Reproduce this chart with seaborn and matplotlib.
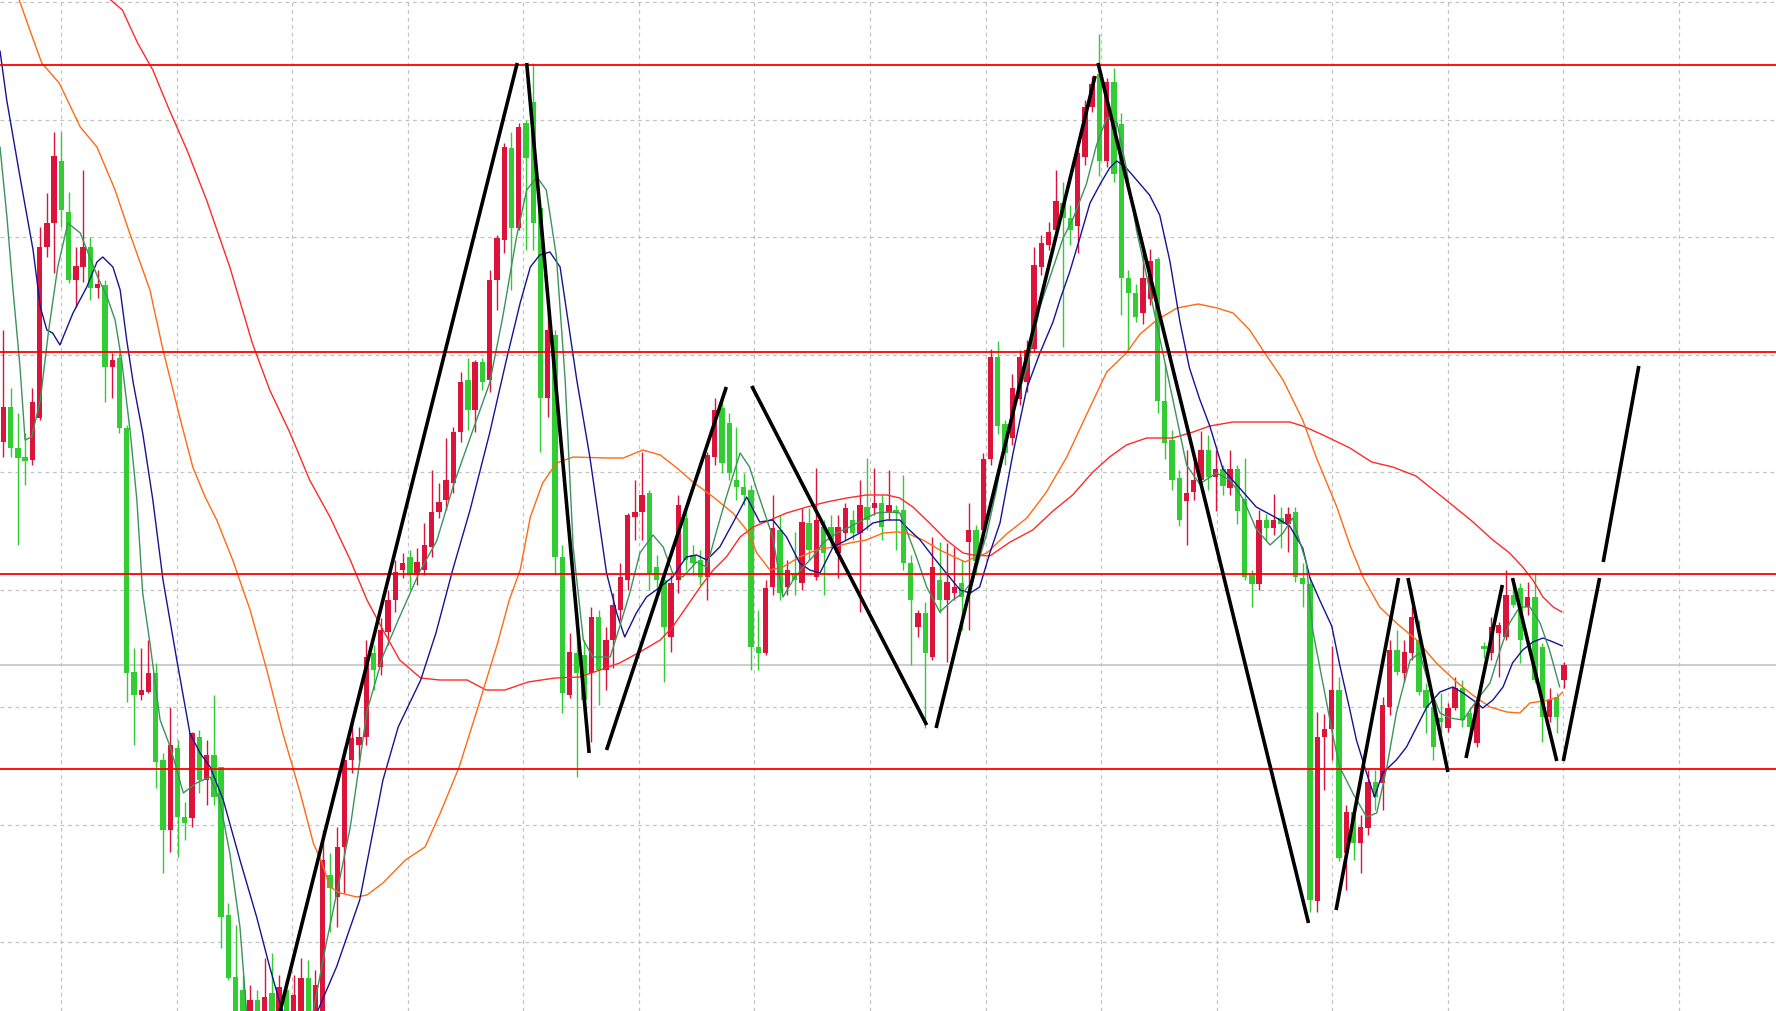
import numpy as np
import pandas as pd
import seaborn as sns
import matplotlib
matplotlib.use("Agg")
import matplotlib.pyplot as plt

# OHLC per bar (price in chart points)
opens = [569, 604, 563, 554, 551, 593, 764, 788, 850, 799,
         731, 744, 764, 723, 726, 644, 653, 583, 339, 316,
         319, 338, 251, 181, 263, 194, 193, 274, 231, 256,
         244, 96, 34, 21, -24, 11, -19, 18, -14, 21,
         -4, -9, 33, -4, -9, 136, 114, 164, 251, 266,
         274, 358, 344, 379, 411, 441, 454, 436, 441, 464,
         499, 511, 528, 579, 631, 601, 649, 631, 731, 771,
         863, 783, 888, 909, 803, 613, 676, 454, 316, 358,
         356, 338, 394, 341, 371, 401, 431, 494, 499, 518,
         444, 431, 374, 431, 493, 456, 451, 434, 554, 603,
         588, 531, 524, 521, 364, 358, 424, 481, 424, 438,
         428, 488, 434, 484, 484, 458, 478, 491, 478, 504,
         503, 508, 498, 501, 501, 448, 384, 398, 354, 431,
         411, 418, 428, 469, 481, 481, 552, 654, 587, 573,
         612, 629, 662, 744, 766, 781, 808, 793, 785, 854,
         904, 937, 850, 929, 887, 733, 718, 698, 712, 752,
         610, 571, 533, 510, 519, 531, 561, 534, 542, 523,
         542, 512, 436, 427, 491, 483, 493, 487, 499, 433,
         427, 110, 274, 282, 321, 158, 199, 168, 183, 229,
         228, 304, 361, 338, 358, 371, 321, 304, 293, 283,
         303, 323, 298, 268, 365, 358, 378, 374, 416, 423,
         404, 414, 364, 294, 314, 331]
closes = [604, 563, 553, 550, 609, 764, 788, 855, 801, 731,
          745, 764, 723, 727, 644, 651, 583, 338, 316, 321,
          338, 249, 181, 266, 194, 188, 278, 231, 256, 214,
          94, 33, -9, -19, 11, -14, 14, -9, 24, -4,
          16, 33, -4, 26, 151, 123, 164, 251, 273, 274,
          354, 341, 381, 411, 439, 448, 436, 449, 466, 499,
          509, 531, 579, 629, 601, 649, 629, 731, 773, 864,
          783, 884, 853, 788, 613, 681, 454, 318, 359, 338,
          311, 394, 341, 371, 406, 434, 496, 499, 516, 438,
          431, 384, 428, 506, 451, 448, 434, 556, 601, 548,
          538, 524, 516, 364, 358, 423, 483, 418, 441, 431,
          489, 461, 491, 458, 471, 484, 503, 478, 506, 491,
          508, 484, 506, 498, 448, 411, 398, 358, 444, 411,
          429, 424, 414, 481, 450, 552, 654, 585, 558, 623,
          654, 661, 746, 768, 779, 810, 793, 781, 858, 904,
          927, 850, 929, 837, 733, 718, 694, 733, 750, 610,
          568, 531, 491, 518, 531, 561, 534, 542, 525, 542,
          500, 434, 427, 491, 483, 491, 487, 497, 434, 427,
          111, 274, 282, 321, 153, 199, 168, 184, 229, 214,
          306, 361, 339, 359, 394, 319, 303, 264, 289, 303,
          323, 291, 284, 308, 362, 384, 386, 416, 406, 371,
          414, 331, 294, 311, 294, 346]
highs = [681, 623, 598, 578, 623, 784, 818, 879, 879, 819,
         764, 841, 774, 741, 731, 658, 658, 586, 363, 363,
         371, 348, 258, 304, 271, 209, 279, 281, 271, 316,
         244, 108, 86, 36, 26, 21, 53, 58, 36, 31,
         36, 53, 51, 41, 181, 158, 184, 263, 293, 284,
         371, 366, 393, 421, 451, 458, 461, 463, 488, 541,
         528, 573, 584, 639, 653, 651, 653, 741, 776, 868,
         879, 888, 891, 948, 811, 701, 681, 466, 378, 398,
         371, 404, 401, 384, 418, 448, 498, 531, 559, 521,
         456, 441, 436, 516, 506, 466, 461, 559, 613, 611,
         598, 584, 538, 526, 401, 431, 516, 496, 451, 479,
         503, 503, 543, 491, 496, 496, 508, 501, 531, 553,
         543, 516, 541, 506, 536, 456, 401, 409, 474, 469,
         468, 464, 451, 508, 486, 558, 662, 670, 591, 637,
         661, 671, 764, 776, 789, 841, 829, 806, 863, 911,
         935, 977, 933, 943, 898, 741, 727, 762, 762, 754,
         648, 581, 541, 561, 553, 580, 576, 561, 546, 561,
         546, 553, 441, 501, 497, 517, 504, 504, 504, 448,
         434, 299, 297, 365, 334, 206, 206, 196, 241, 241,
         314, 371, 381, 371, 404, 391, 328, 311, 318, 308,
         334, 331, 304, 311, 369, 394, 389, 441, 431, 428,
         429, 438, 368, 323, 318, 349]
lows = [554, 554, 466, 526, 546, 591, 754, 738, 784, 728,
        704, 729, 711, 713, 609, 613, 578, 309, 266, 311,
        318, 223, 138, 159, 154, 171, 184, 218, 206, 206,
        63, 31, -19, -34, -34, -29, -29, -24, -24, -19,
        -14, -19, -14, -14, -14, 79, 84, 118, 238, 251,
        266, 321, 336, 366, 399, 433, 421, 426, 436, 454,
        493, 501, 518, 569, 581, 579, 621, 619, 701, 758,
        721, 781, 761, 761, 559, 594, 436, 298, 313, 234,
        299, 269, 306, 321, 343, 391, 421, 471, 471, 421,
        416, 329, 359, 418, 441, 436, 426, 411, 546, 538,
        531, 511, 506, 341, 341, 356, 416, 411, 416, 416,
        421, 451, 431, 416, 463, 433, 471, 471, 399, 481,
        496, 471, 491, 461, 441, 346, 374, 283, 351, 398,
        349, 411, 381, 381, 436, 466, 546, 577, 546, 566,
        606, 619, 659, 736, 761, 776, 664, 766, 758, 846,
        899, 835, 844, 829, 696, 662, 689, 687, 706, 598,
        552, 521, 485, 466, 511, 526, 521, 500, 516, 516,
        487, 431, 404, 421, 471, 476, 463, 459, 429, 404,
        99, 99, 221, 251, 150, 121, 151, 138, 176, 201,
        201, 296, 336, 329, 351, 316, 278, 251, 278, 279,
        301, 284, 274, 264, 353, 351, 334, 371, 404, 348,
        396, 328, 269, 289, 278, 323]

# moving averages (bar, price)
fast_ma = [(-0.45, 864), (0.5, 794), (1.3, 724), (2.3, 644), (3.0, 571), (3.9, 574), (5.1, 611),
           (6.2, 678), (7.5, 744), (8.9, 788), (10.6, 778), (11.9, 754), (13.0, 734), (14.3, 714),
           (15.4, 691), (16.3, 651), (17.5, 578), (18.4, 511), (19.2, 418), (20.2, 368), (21.6, 291),
           (23.0, 264), (24.8, 218), (26.6, 228), (28.5, 234), (29.8, 211), (31.2, 158), (32.6, 84),
           (33.5, 0), (34.7, -34), (40.9, -34), (42.7, 0), (44.5, 68), (46.4, 134), (47.8, 184),
           (49.1, 250), (50.1, 300), (52.3, 355), (54.4, 391), (57.4, 440), (59.7, 470), (62.2, 530),
           (64.7, 581), (67.0, 628), (68.8, 694), (70.7, 774), (72.1, 821), (73.5, 834), (74.8, 821),
           (76.2, 754), (77.4, 631), (78.5, 464), (79.9, 371), (81.2, 354), (83.6, 354), (84.9, 384),
           (86.3, 418), (87.7, 458), (89.5, 476), (90.9, 464), (92.2, 438), (93.6, 434), (95.5, 449),
           (96.9, 444), (98.3, 481), (99.6, 514), (101.5, 558), (102.8, 544), (103.8, 521),
           (105.2, 491), (106.0, 474), (107.4, 414), (108.8, 431), (110.2, 444), (111.5, 454),
           (112.9, 468), (114.8, 478), (116.6, 484), (118.4, 491), (120.3, 498), (122.1, 499),
           (123.5, 498), (124.4, 481), (125.8, 454), (127.2, 424), (129.0, 399), (130.8, 411),
           (132.2, 418), (133.6, 431), (135.5, 478), (136.8, 521), (138.2, 577), (139.6, 612),
           (141.0, 643), (142.8, 704), (144.6, 743), (146.0, 773), (147.4, 793), (149.2, 827),
           (150.6, 866), (152.0, 893), (153.4, 889), (154.7, 843), (156.1, 781), (157.5, 735),
           (159.3, 673), (161.1, 612), (163.0, 546), (164.8, 527), (167.1, 538), (169.0, 531),
           (170.8, 512), (172.6, 482), (174.5, 466), (176.3, 478), (177.6, 493), (179.5, 448),
           (180.4, 380), (181.8, 327), (183.2, 274), (184.1, 244), (185.9, 218), (187.8, 194),
           (189.2, 198), (190.6, 244), (191.9, 298), (193.8, 351), (195.1, 358), (196.5, 324),
           (197.9, 298), (199.3, 293), (201.1, 291), (203.0, 311), (204.8, 328), (206.2, 361),
           (207.5, 388), (208.9, 404), (210.3, 404), (211.7, 388), (213.0, 361), (214.4, 324)]
blue_ma = [(-0.45, 960), (0.47, 911), (2.3, 834), (4.1, 761), (5.1, 704), (6.0, 681), (6.8, 678),
           (7.8, 666), (9.6, 698), (11.5, 724), (12.9, 749), (13.7, 754), (15.1, 744), (16.1, 721),
           (17.0, 671), (17.9, 628), (19.2, 578), (20.6, 511), (22.0, 431), (23.9, 351), (25.7, 278),
           (27.1, 258), (28.5, 244), (30.3, 211), (32.6, 151), (34.9, 94), (36.7, 44), (38.1, 8),
           (39.5, -19), (41.5, -19), (43.3, 0), (45.9, 44), (49.1, 111), (52.3, 231), (54.4, 284),
           (57.5, 331), (59.6, 378), (61.9, 441), (64.3, 501), (67.0, 578), (69.3, 651), (71.2, 708),
           (72.6, 744), (73.9, 756), (75.3, 759), (76.7, 744), (79.0, 631), (80.8, 554), (83.1, 438),
           (84.5, 398), (85.6, 374), (87.2, 398), (88.6, 414), (90.5, 424), (92.2, 434), (94.1, 454),
           (95.5, 456), (96.9, 451), (98.7, 464), (100.5, 488), (102.4, 514), (104.2, 489),
           (106.0, 491), (107.9, 474), (109.7, 448), (111.1, 441), (112.5, 438), (114.3, 464),
           (116.2, 471), (118.0, 478), (119.8, 488), (121.7, 491), (123.5, 491), (124.4, 484),
           (126.3, 471), (128.1, 454), (129.9, 438), (131.8, 421), (133.2, 418), (134.5, 424),
           (135.9, 458), (137.3, 488), (139.1, 558), (141.0, 623), (142.8, 658), (144.6, 689),
           (145.6, 712), (146.9, 739), (148.3, 773), (149.7, 808), (151.1, 827), (152.4, 843),
           (153.4, 850), (154.7, 843), (156.6, 827), (157.9, 816), (159.3, 796), (160.7, 750),
           (162.1, 689), (163.4, 643), (164.8, 612), (166.2, 585), (168.0, 542), (170.3, 523),
           (172.6, 504), (175.4, 493), (177.2, 485), (179.0, 463), (180.0, 433), (181.4, 410),
           (183.0, 385), (184.1, 346), (185.5, 301), (186.4, 271), (187.8, 238), (188.9, 214),
           (190.0, 238), (191.9, 251), (193.3, 264), (194.7, 284), (196.1, 304), (197.9, 319),
           (199.7, 324), (201.1, 318), (203.0, 308), (203.8, 303), (205.2, 311), (206.6, 324),
           (207.9, 348), (209.3, 361), (210.7, 369), (212.1, 373), (213.5, 369), (214.8, 365)]
orange_ma = [(1.6, 1021), (2.2, 1011), (3.8, 978), (5.3, 948), (7.7, 928), (10.6, 884), (12.9, 864),
             (15.4, 821), (17.4, 778), (20.2, 721), (22.0, 661), (24.3, 594), (26.1, 544), (27.8, 514),
             (29.4, 491), (31.6, 451), (34.0, 401), (36.3, 341), (38.5, 278), (40.9, 218), (42.7, 168),
             (43.9, 148), (45.0, 124), (46.4, 118), (48.7, 114), (50.1, 116), (52.3, 128), (55.4, 151),
             (58.1, 164), (60.2, 198), (62.8, 244), (65.4, 304), (68.1, 368), (69.7, 411), (71.2, 441),
             (72.6, 494), (74.3, 528), (76.2, 548), (78.5, 554), (83.1, 553), (85.4, 553), (88.1, 561),
             (90.5, 556), (92.8, 543), (95.0, 529), (97.8, 514), (100.5, 498), (102.4, 481),
             (103.8, 458), (105.6, 441), (107.4, 444), (109.7, 454), (112.0, 461), (114.3, 464),
             (116.6, 468), (118.9, 471), (121.2, 478), (123.1, 479), (124.4, 478), (126.7, 471),
             (129.0, 461), (131.3, 453), (132.5, 449), (133.6, 453), (135.5, 458), (138.2, 477),
             (141.0, 493), (143.7, 519), (146.5, 554), (149.2, 596), (152.0, 639), (154.7, 658),
             (156.6, 677), (158.9, 691), (161.7, 703), (164.6, 707), (167.2, 703), (169.4, 698),
             (171.7, 681), (173.5, 661), (176.3, 631), (179.0, 591), (180.9, 553), (183.7, 504),
             (185.5, 466), (187.3, 434), (189.6, 404), (191.9, 388), (194.7, 371), (197.4, 348),
             (200.2, 329), (202.4, 316), (204.8, 304), (207.1, 299), (208.9, 298), (210.3, 308),
             (212.1, 310), (214.0, 313), (214.8, 319)]
red_ma = [(14.0, 1026), (14.8, 1011), (16.4, 1001), (18.5, 968), (20.6, 941), (22.7, 904), (25.3, 861),
          (28.0, 811), (31.2, 744), (34.3, 668), (36.7, 621), (39.5, 578), (42.2, 531), (45.0, 494),
          (47.8, 451), (50.1, 411), (52.3, 381), (54.6, 351), (57.5, 333), (60.1, 331), (63.9, 331),
          (66.5, 321), (69.1, 321), (72.3, 329), (76.0, 333), (79.4, 334), (82.2, 341), (84.9, 348),
          (87.7, 359), (90.5, 371), (92.2, 384), (94.1, 404), (96.0, 424), (97.8, 441), (99.6, 454),
          (101.5, 474), (103.3, 484), (105.6, 491), (107.9, 498), (110.7, 504), (113.4, 509),
          (116.2, 513), (118.9, 516), (121.7, 516), (123.5, 513), (125.3, 504), (127.6, 488),
          (129.9, 471), (132.2, 458), (133.6, 456), (135.9, 455), (138.7, 469), (141.8, 481),
          (144.6, 500), (147.3, 516), (150.1, 539), (152.4, 554), (154.7, 566), (157.5, 573),
          (161.1, 573), (163.9, 579), (166.2, 585), (169.4, 589), (173.1, 589), (177.2, 589),
          (179.0, 585), (181.8, 576), (185.5, 563), (188.5, 549), (191.4, 544), (194.6, 535),
          (198.4, 513), (202.3, 490), (205.2, 471), (207.5, 458), (209.3, 444), (210.7, 431),
          (212.1, 414), (213.5, 404), (214.7, 399)]

# hand-drawn zigzag trend lines: (bar0, price0, bar1, price1)
zigzag = [(38.0, -4, 70.8, 948), (72.1, 948, 80.7, 258), (83.1, 261, 99.6, 624),
          (103.1, 625, 127.2, 286), (128.5, 283, 150.4, 935), (150.8, 948, 179.8, 88),
          (183.6, 101, 192.2, 433), (193.5, 433, 199.0, 239), (201.5, 253, 206.5, 426),
          (207.9, 433, 214.0, 250), (214.9, 250, 219.9, 433), (220.4, 449, 225.3, 645)]

# horizontal support / resistance levels and the bid line
levels = [946.5, 659, 437, 242]
bid = 346

bars = pd.DataFrame({"open": opens, "high": highs, "low": lows, "close": closes})
bars["bar"] = np.arange(len(bars))
bars["up"] = bars["close"] >= bars["open"]

sns.set_style("white")
fig = plt.figure(figsize=(17.76, 10.11), dpi=100)
ax = fig.add_axes([0, 0, 1, 1])

# candles: red = bullish, green = bearish
colors = np.where(bars["up"], "#dc143c", "#32cd32")
ax.vlines(bars["bar"], bars["low"], bars["high"], colors=colors, lw=1.0, zorder=2)
body_lo = bars[["open", "close"]].min(axis=1)
body_h = (bars["close"] - bars["open"]).abs().clip(lower=2)
ax.bar(bars["bar"], body_h, bottom=body_lo, width=0.74, color=colors, lw=0, zorder=3)

# moving averages
ma_styles = [(red_ma, "#ff2a2a"), (orange_ma, "#ff6a13"), (blue_ma, "#141496"), (fast_ma, "#3c935c")]
for pts, col in ma_styles:
    df = pd.DataFrame(pts, columns=["bar", "price"])
    sns.lineplot(data=df, x="bar", y="price", color=col, lw=1.0, ax=ax,
                 errorbar=None, sort=False, zorder=4)

for lvl in levels:
    ax.axhline(lvl, color="#ff0000", lw=1.3, zorder=5)
ax.axhline(bid, color="#c0c0c0", lw=1.1, zorder=1)

for x0, y0, x1, y1 in zigzag:
    ax.plot([x0, x1], [y0, y1], color="black", lw=2.6, solid_capstyle="butt", zorder=6)

ax.set_xlim(-0.455, 244.2)
ax.set_ylim(0, 1011)
ax.set_xticks(np.arange(7.95, 244, 15.92))
ax.set_yticks([69, 186.5, 304, 421.5, 539, 656.5, 774, 891.5, 1009])
ax.grid(True, color="#c4c4c4", ls=(0, (3, 3)), lw=0.9)
ax.set_axisbelow(True)
ax.tick_params(length=0, labelbottom=False, labelleft=False)
ax.set_xlabel("")
ax.set_ylabel("")
for s in ax.spines.values():
    s.set_visible(False)

fig.savefig("out.png", dpi=100)
